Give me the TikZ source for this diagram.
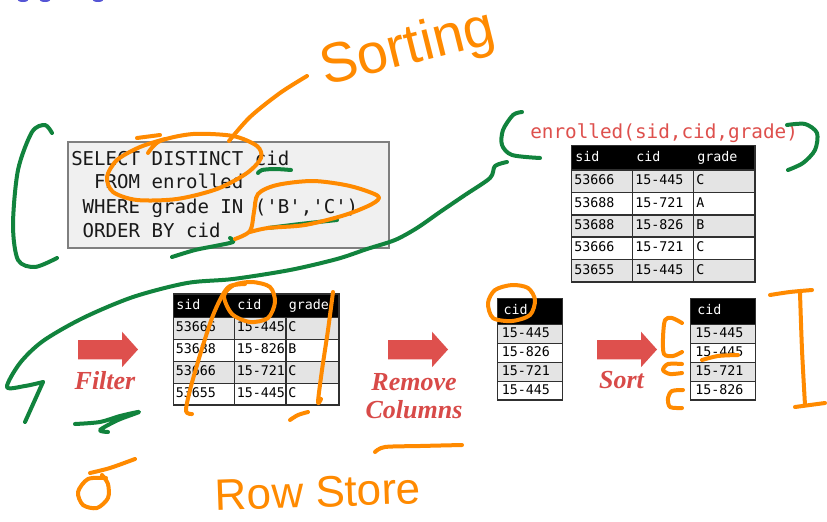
\documentclass[tikz,border=0pt]{standalone}
\usepackage{fontspec}
\newfontfamily\codefont{DejaVu Sans Mono}
\newfontfamily\labelfont{Liberation Serif}
\newfontfamily\handfont{Liberation Sans}

\definecolor{slidered}{HTML}{DE504D}
\definecolor{labelred}{HTML}{D84A48}
\definecolor{codegray}{HTML}{F0F0F0}
\definecolor{boxborder}{HTML}{7F7F7F}
\definecolor{rowgray}{HTML}{E4E4E4}
\definecolor{gridline}{HTML}{303030}
\definecolor{inkorange}{HTML}{FF8A00}
\definecolor{inkgreen}{HTML}{11833D}
\definecolor{titleblue}{HTML}{5555D5}

\tikzset{
  sqlbox/.style={draw=boxborder, fill=codegray, line width=1.5pt, inner sep=0pt},
  sqlline/.style={anchor=base west, inner sep=0pt,
    font=\codefont\fontsize{14.3pt}{18pt}\selectfont, text=black!90},
  celltext/.style={anchor=west, inner xsep=0pt, inner ysep=0pt,
    text height=7.4pt, text depth=1.9pt,
    font=\codefont\fontsize{10pt}{12pt}\selectfont, text=black},
  headtext/.style={celltext, text=white},
  stagelabel/.style={anchor=base, inner sep=0pt,
    font=\labelfont\bfseries\itshape\fontsize{19.5pt}{21pt}\selectfont, text=labelred},
  handtext/.style={inner sep=0pt, text=inkorange},
  ink/.style={line width=3pt, line cap=round, line join=round},
  orangeink/.style={ink, draw=inkorange},
  greenink/.style={ink, draw=inkgreen},
  grid/.style={draw=gridline, line width=1.1pt},
}

% red block arrow between the stages, shifted along x
\newcommand\stagearrow[1]{%
  \fill[slidered, shift={(#1,0)}] (78,340) -- (122,340) -- (122,331.7) -- (138,349.5)
    -- (122,367.2) -- (122,359.3) -- (78,359.3) -- cycle;}

\begin{document}
\begin{tikzpicture}[x=0.75pt, y=-0.75pt]
\useasboundingbox (0,0) rectangle (827,521);
\fill[white] (0,0) rectangle (827,521);

% remains of the slide title above
\fill[titleblue] (23,-1) ellipse [x radius=6, y radius=3];
\fill[titleblue] (45,-1) ellipse [x radius=6, y radius=3];
\fill[titleblue] (98,-1) ellipse [x radius=6, y radius=3];

% ---------------- SQL query ----------------
\node[sqlbox, minimum width=240.75pt, minimum height=79.5pt] (sql) at (228.5,195) {};
\node[sqlline] (sql-l1) at (71,165) {SELECT DISTINCT cid};
\node[sqlline] (sql-l2) at (71,188.5) {\phantom{XX}FROM enrolled};
\node[sqlline] (sql-l3) at (71,213) {\phantom{X}WHERE grade IN (\textquotesingle B\textquotesingle,\textquotesingle C\textquotesingle)};
\node[sqlline] (sql-l4) at (71,237) {\phantom{X}ORDER BY cid};

% ---------------- base table ----------------
\node[anchor=base west, inner sep=0pt, font=\codefont\fontsize{14.5pt}{17pt}\selectfont,
      text=slidered] (schema) at (530,138) {enrolled(sid,cid,grade)};
\fill[black] (571.5,145.5) rectangle (755,170);
\foreach \t/\b/\c in {170/192.5/rowgray,192.5/215/white,215/237/rowgray,237/259.5/white,259.5/282/rowgray}
  \fill[\c] (571.5,\t) rectangle (755,\b);
\draw[grid] (571.5,145.5) rectangle (755,282);
\foreach \y in {170,192.5,215,237,259.5} \draw[grid] (571.5,\y) -- (755,\y);
\foreach \x in {632.5,693.5} \draw[grid] (\x,170) -- (\x,282);
\node[headtext] (enr-h1) at (575,158) {sid};
\node[headtext] (enr-h2) at (636,158) {cid};
\node[headtext] (enr-h3) at (697,158) {grade};
\foreach \y/\s/\c/\g [count=\i] in {181.25/53666/15-445/C,203.75/53688/15-721/A,
    226/53688/15-826/B,248.25/53666/15-721/C,270.75/53655/15-445/C} {
  \node[celltext] (enr-sid-\i) at (574,\y) {\s};
  \node[celltext] (enr-cid-\i) at (635,\y) {\c};
  \node[celltext] (enr-grade-\i) at (696,\y) {\g};
}

% ---------------- filtered table ----------------
\fill[black] (173.3,294) rectangle (339,317.3);
\foreach \t/\b/\c in {317.3/339.3/rowgray,339.3/361.3/white,361.3/383.3/rowgray,383.3/405/white}
  \fill[\c] (173.3,\t) rectangle (339,\b);
\draw[grid] (173.3,294) rectangle (339,405);
\foreach \y in {317.3,339.3,361.3,383.3} \draw[grid] (173.3,\y) -- (339,\y);
\foreach \x in {234.3,286} \draw[grid] (\x,317.3) -- (\x,405);
\node[headtext] (flt-h1) at (176,305.6) {sid};
\node[headtext] (flt-h2) at (237,305.6) {cid};
\node[headtext] (flt-h3) at (288.5,305.6) {grade};
\foreach \y/\s/\c/\g [count=\i] in {328.3/53666/15-445/C,350.3/53688/15-826/B,
    372.3/53666/15-721/C,394.2/53655/15-445/C} {
  \node[celltext] (flt-sid-\i) at (175.5,\y) {\s};
  \node[celltext] (flt-cid-\i) at (236.5,\y) {\c};
  \node[celltext] (flt-grade-\i) at (288,\y) {\g};
}

% ---------------- projected column ----------------
\fill[black] (497.3,298.3) rectangle (562.3,324.3);
\foreach \t/\b/\c in {324.3/343.3/rowgray,343.3/362.3/white,362.3/381.3/rowgray,381.3/400/white}
  \fill[\c] (497.3,\t) rectangle (562.3,\b);
\draw[grid] (497.3,298.3) rectangle (562.3,400);
\foreach \y in {324.3,343.3,362.3,381.3} \draw[grid] (497.3,\y) -- (562.3,\y);
\node[headtext] (prj-h) at (503.3,311.3) {cid};
\foreach \y/\c [count=\i] in {333.8/15-445,352.8/15-826,371.8/15-721,390.6/15-445}
  \node[celltext] (prj-cid-\i) at (501.5,\y) {\c};

% ---------------- sorted column ----------------
\fill[black] (690.7,298.3) rectangle (755.3,324.3);
\foreach \t/\b/\c in {324.3/343.3/rowgray,343.3/362.3/white,362.3/381.3/rowgray,381.3/400/white}
  \fill[\c] (690.7,\t) rectangle (755.3,\b);
\draw[grid] (690.7,298.3) rectangle (755.3,400);
\foreach \y in {324.3,343.3,362.3,381.3} \draw[grid] (690.7,\y) -- (755.3,\y);
\node[headtext] (srt-h) at (697,311.3) {cid};
\foreach \y/\c [count=\i] in {333.8/15-445,352.8/15-445,371.8/15-721,390.6/15-826}
  \node[celltext] (srt-cid-\i) at (695,\y) {\c};

% ---------------- stage arrows and labels ----------------
\stagearrow{0}
\stagearrow{310}
\stagearrow{519}
\node[stagelabel] (filter) at (105,389) {Filter};
\node[stagelabel] (remove) at (414,390) {Remove};
\node[stagelabel] (columns) at (414,418) {Columns};
\node[stagelabel] (sort) at (621.5,388.3) {Sort};

% ---------------- green pen ----------------
\draw[greenink] plot[smooth] coordinates {(52,133) (45,125) (32,132) (18,170) (13,225) (18,260) (35,267) (57,258)};
\draw[greenink] plot[smooth] coordinates {(258,173) (262,170) (275,169) (291,170)};
\draw[greenink] plot[smooth] coordinates {(268,228) (300,224) (337,220)};
\draw[greenink] plot[smooth] coordinates {(172,257) (195,250) (215,246) (233,242) (230,238)};
\draw[greenink] plot[smooth] coordinates {(522,112) (513,115) (503,130) (502,145) (512,155) (540,158)};
\draw[greenink] plot[smooth] coordinates {(787,125) (805,124) (817,133) (815,150) (803,163) (788,170)};
\draw[greenink] plot[smooth] coordinates {(507,162) (495,166) (490,178) (465,195) (440,212) (417,228)
  (395,240) (367,249) (337,259) (290,270) (233,279) (187,283) (133,297) (83,318) (43,341)
  (20,363) (7,387) (25,386) (43,382)};
\draw[greenink] (43,382) -- (25,422);
\draw[greenink] plot[smooth] coordinates {(75,424) (100,422) (120,416) (139,412) (118,420) (100,430) (108,432)};

% ---------------- orange pen ----------------
\draw[orangeink] (137,138) -- (160,135);
\draw[orangeink] plot[smooth] coordinates {(148,153) (160,141) (193,134) (233,136) (257,146) (261,158)
  (247,173) (217,189) (177,199) (137,200) (113,192) (107,177) (117,160) (140,147) (165,139)};
\draw[orangeink] plot[smooth] coordinates {(229,141) (250,117) (280,93) (307,76)};
\draw[orangeink] plot[smooth] coordinates {(235,239) (250,231) (254,212) (258,194) (277,185) (313,181)
  (350,186) (378,196) (372,204) (345,215) (305,225) (268,228) (250,232)};
\node[handtext, rotate=14, font=\handfont\fontsize{42pt}{46pt}\selectfont] (sorting) at (408,50) {Sorting};

\draw[orangeink] plot[smooth] coordinates {(192,414) (186,411) (190,390) (200,355) (212,318) (222,296) (230,286) (245,284)};
\draw[orangeink] plot[smooth cycle] coordinates {(224,296) (232,314) (250,322) (268,318) (275,302) (270,287) (252,282) (234,285)};
\draw[orangeink] plot[smooth] coordinates {(333,292) (328,330) (322,370) (318,402) (321,399)};
\draw[orangeink] plot[smooth] coordinates {(290,420) (298,415) (308,412)};

\draw[orangeink] plot[smooth] coordinates {(106,478) (88,479) (78,492) (83,505) (97,508) (108,498) (108,484) (102,475)};
\draw[orangeink] plot[smooth] coordinates {(90,473) (110,468) (135,459)};
\draw[orangeink] plot[smooth] coordinates {(375,452) (385,447) (420,446) (462,445)};
\node[handtext, rotate=2, font=\handfont\fontsize{33pt}{36pt}\selectfont] (rowstore) at (318,492) {Row Store};

\draw[orangeink] plot[smooth cycle] coordinates {(512,285) (495,290) (488,303) (493,318) (512,321) (530,315) (535,300) (528,288)};
\draw[orangeink] plot[smooth] coordinates {(682,323) (672,318) (665,320) (663,338) (664,354) (673,356) (682,352)};
\draw[orangeink] plot[smooth] coordinates {(682,364) (668,364) (663,370) (670,374) (682,373)};
\draw[orangeink] plot[smooth] coordinates {(683,390) (672,391) (668,398) (670,407) (682,408)};
\draw[orangeink] plot[smooth] coordinates {(702,360) (718,356) (738,355)};
\draw[orangeink] plot[smooth] coordinates {(770,295) (790,292) (812,290)};
\draw[orangeink] plot[smooth] coordinates {(800,293) (802,350) (805,405)};
\draw[orangeink] plot[smooth] coordinates {(795,407) (810,405) (825,403)};
\end{tikzpicture}
\end{document}
